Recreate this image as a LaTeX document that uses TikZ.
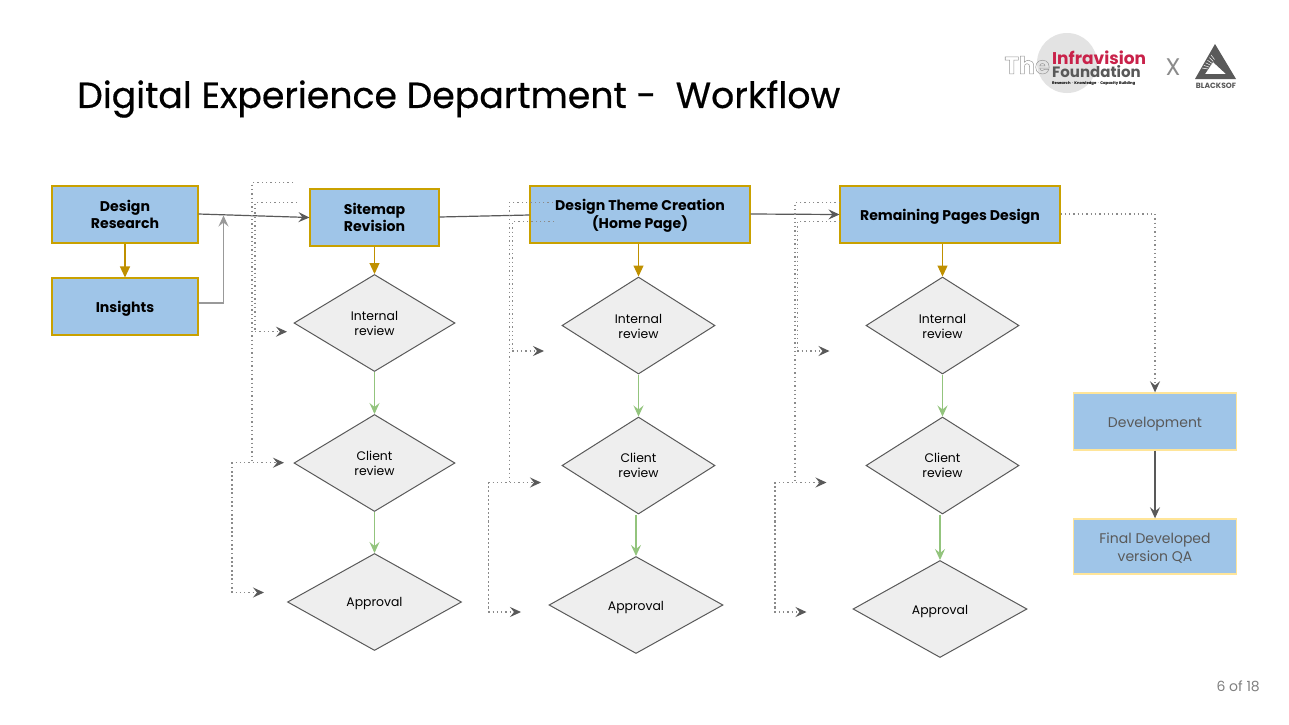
\documentclass[tikz,border=0pt]{standalone}
\usepackage{fontspec}
\setmainfont{Poppins}
\newfontfamily\titlefont[FakeBold=0.5]{Poppins}
\usetikzlibrary{shapes.geometric,arrows.meta}
\definecolor{boxblue}{HTML}{9FC5E8}
\definecolor{gold}{HTML}{BF9000}
\definecolor{lgold}{HTML}{FFE599}
\definecolor{dia}{HTML}{EEEEEE}
\definecolor{dgray}{HTML}{595959}
\definecolor{grn}{HTML}{93C47D}
\definecolor{crim}{HTML}{C9224A}
\tikzset{
 x=1pt,y=-1pt,
 dn/.style={execute at begin node={\rule{0pt}{#1pt}}},
 boxa/.style={draw=gold!85!yellow,fill=boxblue,line width=1.05pt,inner sep=0,align=center,font=\fontsize{14.1}{17}\selectfont\bfseries},
 boxb/.style={draw=lgold,fill=boxblue,line width=1.4pt,inner sep=0,align=center,text=dgray,font=\fontsize{14}{18}\selectfont},
 dd/.style={draw=dgray,fill=dia,line width=1pt,inner sep=0,align=center,font=\fontsize{12.4}{15}\selectfont},
 golda/.style={draw=gold,line width=1.2pt,-{Triangle[length=11pt,width=10pt]}},
 grna/.style={draw=grn,line width=1.2pt,-{Stealth[length=11pt,width=10pt,inset=4pt]}},
 graya/.style={draw=dgray,line width=1.2pt,-{Stealth[length=11pt,width=10pt,inset=4pt]}},
 dota/.style={draw=dgray!70,line width=1.3pt,dash pattern=on 1.3pt off 3pt,-{Stealth[length=11pt,width=10pt,inset=4pt,color=dgray]}},
 dotn/.style={draw=dgray!70,line width=1.3pt,dash pattern=on 1.3pt off 3pt},
}
\newcommand{\rbox}[6][boxa]{\node[#1,minimum width=#4pt,minimum height=#5pt] (#2) at #3 {#6};}
\newcommand{\lowered}[2]{\raisebox{-#1pt}[\height][\depth]{\begin{tabular}{@{}c@{}}#2\end{tabular}}}
\begin{document}
\begin{tikzpicture}
\useasboundingbox (0,0) rectangle (1289,724);
\fill[white] (0,0) rectangle (1289,724);
\node[anchor=west,inner sep=0,font=\fontsize{36.25}{40}\titlefont] (title) at (77,99) {Digital Experience Department -\ \ Workflow};
% logos
\fill[black!11] (1067,63) circle (30);
\node[anchor=east,inner sep=0,font=\fontsize{24}{24}\selectfont\bfseries] (the) at (1050,65) {\special{pdf:code q 1 Tr 0.5 w 0.6 G}The\special{pdf:code Q}};
\node[anchor=west,inner sep=0,font=\fontsize{17}{17}\selectfont\bfseries,text=crim] (infra) at (1052,58) {Infravision};
\node[anchor=west,inner sep=0,font=\fontsize{15}{15}\selectfont\bfseries,text=dgray] (found) at (1052,72) {Foundation};
\node[anchor=west,inner sep=0,font=\fontsize{3.8}{4}\selectfont\bfseries] (tag) at (1052,83) {Research $\cdot$ Knowledge $\cdot$ Capacity Building};
\node[inner sep=0,font=\fontsize{24}{24}\selectfont,text=dgray!70] (xx) at (1173,67) {X};
\fill[dgray,even odd rule] (1215,44)--(1236,79)--(1195,79)--cycle (1213,62)--(1205,74)--(1226,74)--cycle;
\foreach \i in {0,...,5}{\draw[white,line width=.5pt] (1208+\i*1.3,69-\i*1.9) -- (1202+\i*1.8,68-\i*2.6);}
\node[inner sep=0,font=\fontsize{7.6}{8}\selectfont\bfseries,text=dgray] (bs) at (1216,85.5) {BLACKSOF};
\node[anchor=east,inner sep=0,font=\fontsize{14}{14}\selectfont,text=gray] (pg) at (1260,686) {6 of 18};
% boxes
\rbox{dr}{(125,214.5)}{146}{57}{Design\\Research}
\rbox[boxa,dn=15]{ins}{(125,306.5)}{146}{57}{Insights}
\rbox{sr}{(374.5,217.5)}{129}{57}{Sitemap\\Revision}
\rbox[boxa,font=\fontsize{14.1}{18}\selectfont\bfseries]{dt}{(640,214.5)}{220}{57}{\lowered{1.5}{Design Theme Creation\\(Home Page)}}
\rbox[boxa,dn=16]{rp}{(950,214.5)}{220}{57}{Remaining Pages Design}
\rbox[boxb,dn=16]{dev}{(1155,421.5)}{163}{57}{Development}
\rbox[boxb]{qa}{(1155,546.5)}{163}{55}{\lowered{2}{Final Developed\\version QA}}
% diamonds
\node[dd,dn=13,diamond,aspect=1.66,minimum width=161pt,minimum height=97pt] (d1) at (374.5,323) {Internal\\review};
\node[dd,diamond,aspect=1.66,minimum width=161pt,minimum height=97pt] (d2) at (374.5,463) {Client\\review};
\node[dd,dn=12.5,diamond,aspect=1.79,minimum width=174pt,minimum height=97pt] (d3) at (374.5,602) {Approval};
\node[dd,diamond,aspect=1.57,minimum width=153pt,minimum height=97pt] (e1) at (638.5,325.5) {\lowered{2}{Internal\\review}};
\node[dd,diamond,aspect=1.57,minimum width=153pt,minimum height=97pt] (e2) at (638.5,465.5) {\lowered{1.5}{Client\\review}};
\node[dd,dn=15,diamond,aspect=1.79,minimum width=174pt,minimum height=97pt] (e3) at (636,605) {Approval};
\node[dd,diamond,aspect=1.57,minimum width=153pt,minimum height=97pt] (f1) at (942.5,325.5) {\lowered{2}{Internal\\review}};
\node[dd,diamond,aspect=1.57,minimum width=153pt,minimum height=97pt] (f2) at (942.5,465.5) {\lowered{1.5}{Client\\review}};
\node[dd,dn=15,diamond,aspect=1.79,minimum width=174pt,minimum height=97pt] (f3) at (940,609) {Approval};
% connectors
\draw[golda] (dr) -- (ins);
\draw[golda] (sr) -- (d1);
\draw[golda] (dt.south -| e1.north) -- (e1);
\draw[golda] (rp.south -| f1.north) -- (f1);
\foreach \a/\b in {d1/d2,d2/d3,e1/e2,f1/f2}{\draw[grna] (\a) -- (\b);}
\draw[grna] (e2.south -| e3.north) -- (e3.north);
\draw[grna] (f2.south -| f3.north) -- (f3.north);
\coordinate (c1) at (223.5,215.5);
\draw[draw=black!40,line width=1.1pt,-{Stealth[length=11pt,width=10pt,inset=4pt]}] (ins.east |- 0,303) -| (c1);
\draw[graya] (dr.east |- 0,214) -- (sr.west);
\draw[graya,-] (sr.east |- 0,217) -- (dt.west |- 0,215);
\draw[graya] (dt.east |- 0,214) -- (rp.west);
\draw[graya] (dev) -- (qa);
\coordinate (t1a) at (293,182.7); \coordinate (t1b) at (297,202.7);
\coordinate (a1) at (287,331.7); \coordinate (a2) at (284,462.7); \coordinate (a3) at (264,592.5);
\draw[dotn] (t1a) -| (252,462.7);
\draw[dotn] (t1b) -| (255,331.7);
\draw[dota] (255,331.7) -- (a1);
\draw[dota] (232,592.5) |- (a2);
\draw[dota] (232,462.7) |- (a3);
\coordinate (t2a) at (553,202.3); \coordinate (t2b) at (554,221.7);
\coordinate (b1) at (544,351); \coordinate (b2) at (541,482.5); \coordinate (b3) at (521,612);
\draw[dotn] (t2a) -| (509.3,482.5);
\draw[dotn] (t2b) -| (512.3,351);
\draw[dota] (512.3,351) -- (b1);
\draw[dota] (488.7,612) |- (b2);
\draw[dota] (488.7,482.5) |- (b3);
\coordinate (t3a) at (840,202.3); \coordinate (t3b) at (840,221.7);
\coordinate (g1) at (829.5,351); \coordinate (g2) at (826.5,482.5); \coordinate (g3) at (806.5,612);
\draw[dotn] (t3a) -| (795,482.5);
\draw[dotn] (t3b) -| (797.3,351);
\draw[dota] (797.3,351) -- (g1);
\draw[dota] (775,612) |- (g2);
\draw[dota] (775,482.5) |- (g3);
\draw[dota] (rp.east |- 0,214) -| (dev.north);
\end{tikzpicture}
\end{document}
